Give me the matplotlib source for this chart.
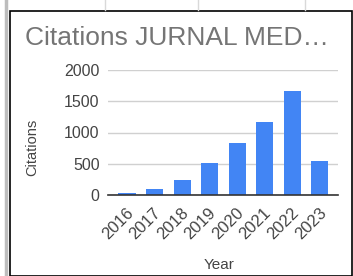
import matplotlib
matplotlib.use("Agg")
import matplotlib.pyplot as plt
import matplotlib.transforms as mtransforms
from matplotlib.patches import Rectangle
from matplotlib.lines import Line2D

years = ["2016", "2017", "2018", "2019", "2020", "2021", "2022", "2023"]
citations = [30, 90, 240, 515, 830, 1168, 1660, 545]
yticks = [0, 500, 1000, 1500, 2000]

W, H = 353, 276
fig = plt.figure(figsize=(W / 100, H / 100), dpi=100)
fig.patch.set_facecolor("white")
plt.rcParams["font.family"] = ["Liberation Sans", "DejaVu Sans"]

def fx(px):
    return px / W

def fy(py):
    return 1 - py / H

# spreadsheet background lines
for x in [105, 198, 305]:
    fig.add_artist(Line2D([fx(x), fx(x)], [fy(0), fy(10)], color="#d9d9d9", lw=1))
fig.add_artist(Line2D([fx(5.5), fx(5.5)], [fy(0), fy(276)], color="#bdbdbd", lw=2.5))
# chart box
fig.add_artist(Rectangle((fx(9.5), fy(276)), fx(342), fy(10.5) - fy(276),
                         fill=False, edgecolor="black", lw=1.2))

ax = fig.add_axes([fx(108), fy(195), fx(230), fy(70) - fy(195)])
x = range(len(years))
ax.bar(x, citations, width=0.62, color="#4285F4", zorder=3)
ax.set_xlim(-0.69, len(years) - 1 + 0.66)
ax.set_ylim(0, 2000)
ax.set_yticks(yticks)
ax.set_yticklabels([str(v) for v in yticks], fontsize=11.5, color="#444444")
ax.set_xticks(list(x))
ax.set_xticklabels(years, rotation=45, ha="right", va="center", rotation_mode="anchor",
                   fontsize=12, color="#444444")
ax.tick_params(axis="y", length=0, pad=6)
ax.tick_params(axis="x", length=0, pad=11)
offset = mtransforms.ScaledTranslation(4 / 100, 0, fig.dpi_scale_trans)
for lbl in ax.get_xticklabels():
    lbl.set_transform(lbl.get_transform() + offset)
ax.grid(axis="y", color="#d0d0d0", lw=1, zorder=0)
for s in ["top", "right", "left"]:
    ax.spines[s].set_visible(False)
ax.spines["bottom"].set_color("#333333")
ax.spines["bottom"].set_linewidth(1.2)
ax.spines["bottom"].set_zorder(4)

fig.text(fx(25), fy(38), "Citations JURNAL MED…", fontsize=19, color="#757575",
         ha="left", va="center")
fig.text(fx(32), fy(147), "Citations", fontsize=10.5, color="#444444",
         rotation=90, ha="center", va="center")
fig.text(fx(219), fy(265), "Year", fontsize=11, color="#444444",
         ha="center", va="center")

fig.savefig("out.png", dpi=100)
